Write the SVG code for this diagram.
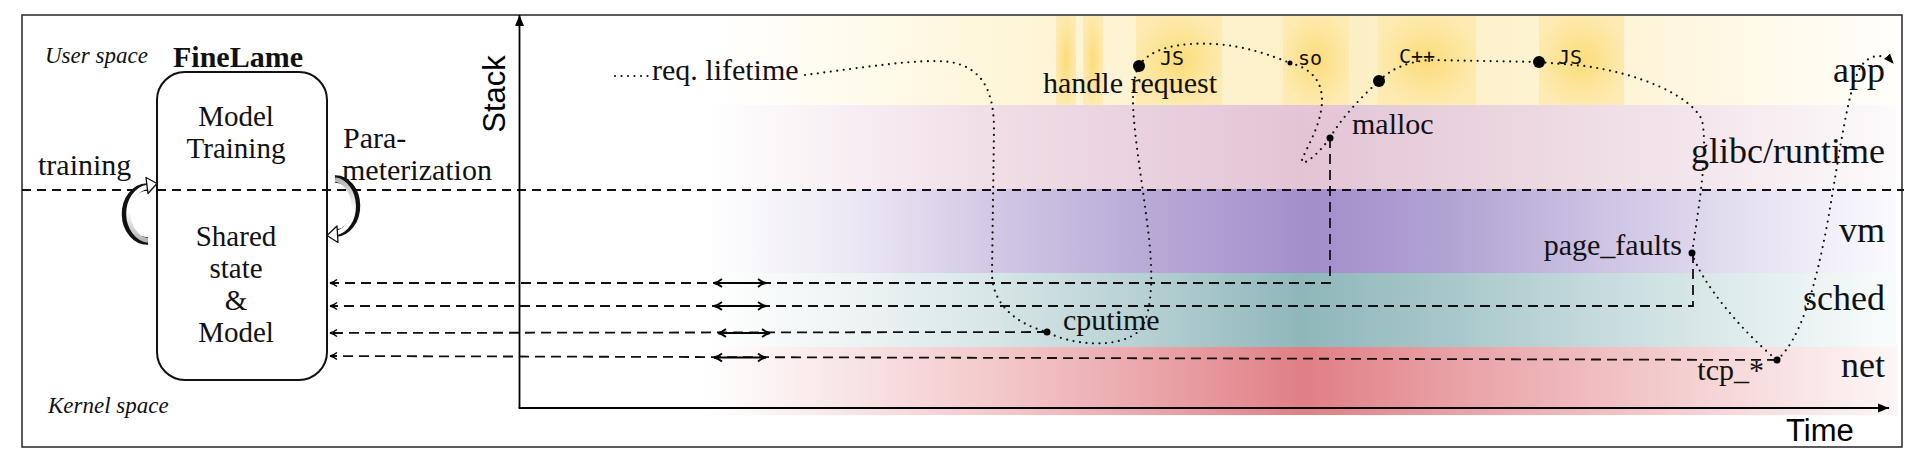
<svg xmlns="http://www.w3.org/2000/svg" width="1916" height="460" viewBox="0 0 1916 460">
<style>
.serif{font-family:"Liberation Serif","Times New Roman",serif;font-size:30px;fill:#111}
.box{font-size:29px;text-anchor:middle}
.band{font-size:36px;text-anchor:end}
.ital{font-style:italic;font-size:23px}
.mono{font-family:"DejaVu Sans Mono","Liberation Mono",monospace;font-size:20px;fill:#111}
.sans{font-family:"Liberation Sans",Arial,sans-serif;font-size:31px;fill:#000}
.conn{fill:none;stroke:#111;stroke-width:1.8;stroke-dasharray:10 6}
.dot{fill:none;stroke:#111;stroke-width:2.2;stroke-dasharray:0 6.5;stroke-linecap:round}
.dbl{stroke:#000;stroke-width:2;fill:none}
</style>
<defs>
<linearGradient id="gApp" gradientUnits="userSpaceOnUse" x1="705" y1="0" x2="1897" y2="0">
<stop offset="0" stop-color="#ffffff"/><stop offset="0.1" stop-color="#fffcf0"/><stop offset="0.25" stop-color="#fef6d9"/><stop offset="0.55" stop-color="#fdefc5"/><stop offset="0.75" stop-color="#fef4d4"/><stop offset="1" stop-color="#fffefb"/>
</linearGradient>
<linearGradient id="gGlibc" gradientUnits="userSpaceOnUse" x1="705" y1="0" x2="1897" y2="0">
<stop offset="0" stop-color="#ffffff"/><stop offset="0.247" stop-color="#f0dde6"/><stop offset="0.5" stop-color="#e3c4d6"/><stop offset="0.667" stop-color="#ebd5df"/><stop offset="0.835" stop-color="#f3e6ec"/><stop offset="1" stop-color="#fdfbfc"/>
</linearGradient>
<linearGradient id="gVm" gradientUnits="userSpaceOnUse" x1="705" y1="0" x2="1897" y2="0">
<stop offset="0" stop-color="#ffffff"/><stop offset="0.122" stop-color="#ece8f4"/><stop offset="0.247" stop-color="#d2c7e4"/><stop offset="0.373" stop-color="#b8a9d7"/><stop offset="0.508" stop-color="#a28fcb"/><stop offset="0.625" stop-color="#b2a3d4"/><stop offset="0.751" stop-color="#cdc3e3"/><stop offset="0.877" stop-color="#e6e1f1"/><stop offset="1" stop-color="#fbfaff"/>
</linearGradient>
<linearGradient id="gSched" gradientUnits="userSpaceOnUse" x1="705" y1="0" x2="1897" y2="0">
<stop offset="0" stop-color="#ffffff"/><stop offset="0.122" stop-color="#eef4f4"/><stop offset="0.247" stop-color="#d6e5e6"/><stop offset="0.373" stop-color="#b5cfd2"/><stop offset="0.5" stop-color="#8fb7ba"/><stop offset="0.625" stop-color="#a8c7ca"/><stop offset="0.751" stop-color="#c6dbdd"/><stop offset="0.877" stop-color="#e1eded"/><stop offset="1" stop-color="#f9fcfc"/>
</linearGradient>
<linearGradient id="gNet" gradientUnits="userSpaceOnUse" x1="705" y1="0" x2="1897" y2="0">
<stop offset="0" stop-color="#ffffff"/><stop offset="0.122" stop-color="#f9e4e5"/><stop offset="0.247" stop-color="#f3c8ca"/><stop offset="0.373" stop-color="#eaa6aa"/><stop offset="0.503" stop-color="#e07f85"/><stop offset="0.625" stop-color="#e8a0a4"/><stop offset="0.751" stop-color="#f0bec1"/><stop offset="0.877" stop-color="#f7dcdd"/><stop offset="1" stop-color="#fdf6f6"/>
</linearGradient>
<radialGradient id="hl" cx="0.5" cy="0.5" r="0.55">
<stop offset="0" stop-color="#fcdc7a"/><stop offset="1" stop-color="#fdebb3"/>
</radialGradient>
<linearGradient id="gL" x1="0" y1="1" x2="0" y2="0">
<stop offset="0" stop-color="#b4b4b4"/><stop offset="0.55" stop-color="#ffffff"/>
</linearGradient>
<linearGradient id="gR" x1="0" y1="0" x2="0" y2="1">
<stop offset="0" stop-color="#b4b4b4"/><stop offset="0.55" stop-color="#ffffff"/>
</linearGradient>
<marker id="mOpen" markerUnits="userSpaceOnUse" markerWidth="12" markerHeight="10" refX="9" refY="5" orient="auto">
<path d="M2,1.5 Q5,4 9,5 Q5,6 2,8.5" fill="none" stroke="#000" stroke-width="1.5"/>
</marker>
<marker id="mDbl" markerUnits="userSpaceOnUse" markerWidth="12" markerHeight="10" refX="9.5" refY="5" orient="auto-start-reverse">
<path d="M1.5,1 Q5,4 9.5,5 Q5,6 1.5,9" fill="none" stroke="#000" stroke-width="1.8"/>
</marker>
<marker id="mAxis" markerUnits="userSpaceOnUse" markerWidth="12" markerHeight="10" refX="11" refY="5" orient="auto">
<path d="M0,0.5 L11,5 L0,9.5 Z" fill="#000"/>
</marker>
<marker id="mDot" markerUnits="userSpaceOnUse" markerWidth="12" markerHeight="10" refX="9" refY="5" orient="auto">
<path d="M0,1 L10,5 L0,9 Z" fill="#000"/>
</marker>
</defs>

<rect width="1916" height="460" fill="#ffffff"/>

<!-- stack layers -->
<g id="layer-app">
<rect x="705" y="16" width="1192" height="89" fill="url(#gApp)"/>
<rect x="1056" y="16" width="20" height="89" fill="url(#hl)"/>
<rect x="1083" y="16" width="20" height="89" fill="url(#hl)"/>
<rect x="1136" y="16" width="86" height="89" fill="url(#hl)"/>
<rect x="1283" y="16" width="66" height="89" fill="url(#hl)"/>
<rect x="1378" y="16" width="98" height="89" fill="url(#hl)"/>
<rect x="1539" y="16" width="85" height="89" fill="url(#hl)"/>
<text class="serif band" x="1885" y="82">app</text>
</g>
<g id="layer-glibc">
<rect x="705" y="105" width="1192" height="84" fill="url(#gGlibc)"/>
<text class="serif band" x="1885" y="163">glibc/runtime</text>
</g>
<g id="layer-vm">
<rect x="705" y="189" width="1192" height="84" fill="url(#gVm)"/>
<text class="serif band" x="1885" y="242">vm</text>
</g>
<g id="layer-sched">
<rect x="705" y="273" width="1192" height="74" fill="url(#gSched)"/>
<text class="serif band" x="1885" y="310">sched</text>
</g>
<g id="layer-net">
<rect x="705" y="347" width="1192" height="68" fill="url(#gNet)"/>
<text class="serif band" x="1885" y="377">net</text>
</g>

<!-- frame and separators -->
<rect x="22" y="15" width="1880" height="432" fill="none" stroke="#333" stroke-width="1.6"/>
<line x1="22" y1="190" x2="1904" y2="190" stroke="#111" stroke-width="1.8" stroke-dasharray="9 6"/>
<text class="serif ital" x="45" y="63">User space</text>
<text class="serif ital" x="48" y="413">Kernel space</text>

<!-- axes -->
<g id="axes">
<line x1="519.5" y1="408" x2="519.5" y2="15" stroke="#000" stroke-width="1.8" marker-end="url(#mAxis)"/>
<line x1="518.6" y1="408" x2="1889" y2="408" stroke="#000" stroke-width="1.8" marker-end="url(#mAxis)"/>
<text class="sans" transform="translate(505,94) rotate(-90)" text-anchor="middle">Stack</text>
<text class="sans" x="1786" y="441" font-size="30">Time</text>
</g>

<!-- FineLame node -->
<g id="finelame">
<text class="serif" x="238" y="67" text-anchor="middle" font-weight="bold" font-size="27">FineLame</text>
<rect x="157" y="72" width="170" height="308" rx="28" ry="28" fill="none" stroke="#111" stroke-width="2"/>
<text class="serif box" x="236" y="126">Model</text>
<text class="serif box" x="236" y="158">Training</text>
<text class="serif box" x="236" y="246">Shared</text>
<text class="serif box" x="236" y="278">state</text>
<text class="serif box" x="236" y="310">&amp;</text>
<text class="serif box" x="236" y="342">Model</text>
</g>

<!-- training loop -->
<g id="training-loop">
<path d="M148 241 A 22 27 0 0 1 147 187" fill="none" stroke="#111" stroke-width="7.5"/>
<path d="M148 240.5 A 22 27 0 0 1 147 187" fill="none" stroke="url(#gL)" stroke-width="4.5"/>
<path d="M146 177.5 L157 183.5 L148 193.5 Z" fill="#fff" stroke="#111" stroke-width="1.3" stroke-linejoin="round"/>
<text class="serif" x="38" y="175">training</text>
</g>

<!-- parameterization loop -->
<g id="param-loop">
<path d="M335 179 A 21 27 0 0 1 336 233" fill="none" stroke="#111" stroke-width="7.5"/>
<path d="M335 179.5 A 21 27 0 0 1 336 233" fill="none" stroke="url(#gR)" stroke-width="4.5"/>
<path d="M337 226 L327 235.5 L338 242.5 Z" fill="#fff" stroke="#111" stroke-width="1.3" stroke-linejoin="round"/>
<text class="serif" x="343" y="148">Para-</text>
<text class="serif" x="342" y="180">meterization</text>
</g>

<!-- connectors -->
<g id="connectors">
<path class="conn" d="M1330 138 L1330 283 L330 283" marker-end="url(#mOpen)"/>
<path class="conn" d="M1693 253 L1693 306 L330 306" marker-end="url(#mOpen)"/>
<path class="conn" d="M1047 332 L330 333" marker-end="url(#mOpen)"/>
<path class="conn" d="M1777 360 L330 356" marker-end="url(#mOpen)"/>
<line class="dbl" x1="714" y1="283" x2="766" y2="283" marker-start="url(#mDbl)" marker-end="url(#mDbl)"/>
<line class="dbl" x1="714" y1="306" x2="766" y2="306" marker-start="url(#mDbl)" marker-end="url(#mDbl)"/>
<line class="dbl" x1="718" y1="333" x2="770" y2="333" marker-start="url(#mDbl)" marker-end="url(#mDbl)"/>
<line class="dbl" x1="714" y1="357.5" x2="766" y2="357.5" marker-start="url(#mDbl)" marker-end="url(#mDbl)"/>
</g>

<!-- request lifetime path -->
<g id="request-lifetime">
<path class="dot" d="M615 76 L650 76"/>
<path class="dot" d="M805 75 C860 68,920 58,950 62 C985 68,994 95,994 130 L992 273 C992 300,1010 322,1047 332 C1070 345,1120 350,1140 330 C1155 310,1152 260,1148 230 C1142 180,1133 130,1133 100 C1133 85,1135 72,1139 66"/>
<path class="dot" d="M1139 66 C1150 48,1180 42,1215 44 C1245 46,1270 55,1290 63"/>
<path class="dot" d="M1290 63 C1310 68,1322 80,1322 100 C1322 125,1305 150,1302 160 C1300 166,1312 162,1330 138"/>
<path class="dot" d="M1330 138 C1340 120,1360 98,1379 81"/>
<path class="dot" d="M1379 81 C1390 70,1405 62,1430 60 L1539 62"/>
<path class="dot" d="M1539 62 L1585 66 C1640 74,1690 95,1702 120 C1708 150,1700 200,1692 253"/>
<path class="dot" d="M1692 253 C1700 280,1740 330,1777 360"/>
<path class="dot" d="M1777 360 C1800 340,1815 290,1828 220 C1840 150,1848 90,1860 68 C1870 52,1885 54,1893 63" marker-end="url(#mDot)"/>
<text class="serif" x="652" y="80">req. lifetime</text>
</g>

<!-- events -->
<g id="ev-handle">
<circle cx="1139" cy="66" r="6"/>
<text class="serif" x="1043" y="93">handle request</text>
<text class="mono" x="1160" y="65">JS</text>
</g>
<g id="ev-so">
<circle cx="1290" cy="63" r="2.5"/>
<text class="mono" x="1298" y="65">so</text>
</g>
<g id="ev-malloc">
<circle cx="1330" cy="138" r="3.5"/>
<text class="serif" x="1352" y="134">malloc</text>
</g>
<g id="ev-cpp">
<circle cx="1379" cy="81" r="6"/>
<text class="mono" x="1399" y="63">C++</text>
</g>
<g id="ev-js">
<circle cx="1539" cy="62" r="6"/>
<text class="mono" x="1558" y="64">JS</text>
</g>
<g id="ev-pagefaults">
<circle cx="1692" cy="253" r="3.5"/>
<text class="serif" x="1682" y="255" text-anchor="end">page_faults</text>
</g>
<g id="ev-cputime">
<circle cx="1047" cy="332" r="3.5"/>
<text class="serif" x="1063" y="330">cputime</text>
</g>
<g id="ev-tcp">
<circle cx="1777" cy="360" r="3.5"/>
<text class="serif" x="1764" y="380" text-anchor="end">tcp_*</text>
</g>
</svg>
